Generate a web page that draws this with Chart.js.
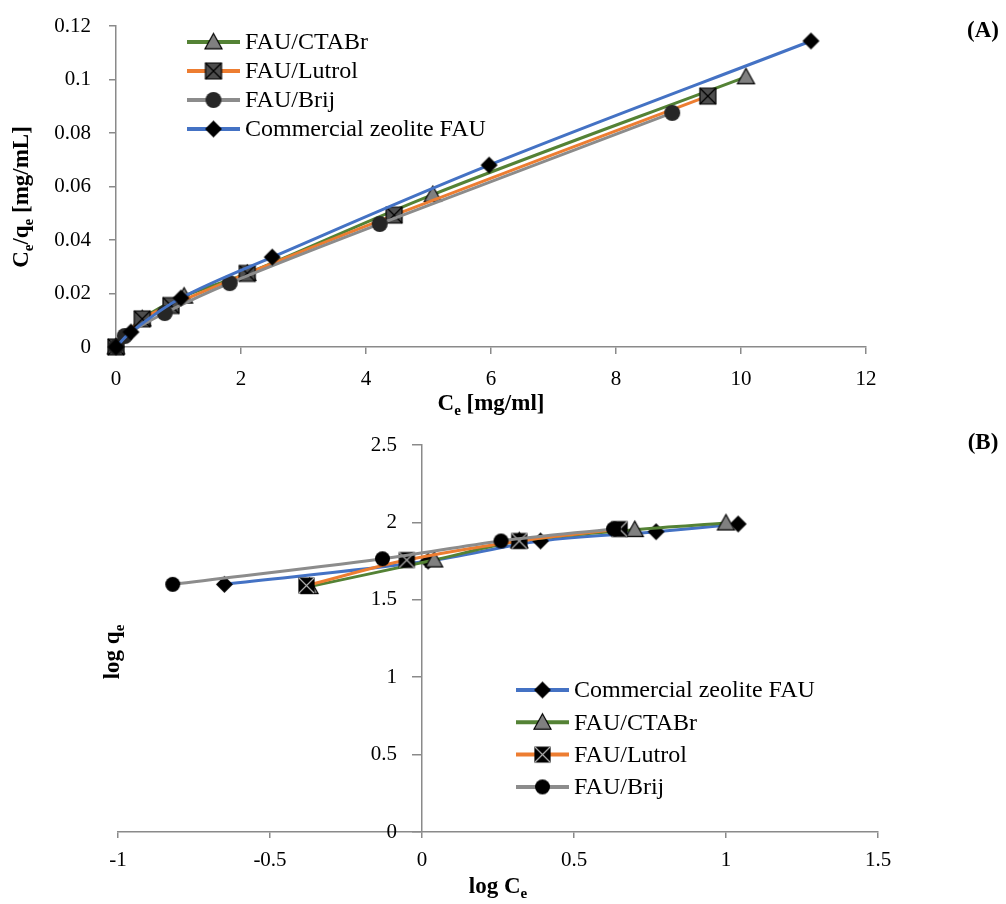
<!DOCTYPE html>
<html>
<head>
<meta charset="utf-8">
<script src="https://cdn.jsdelivr.net/npm/chart.js@4.4.1/dist/chart.umd.min.js"></script>
<style>
html, body { margin: 0; padding: 0; background: #fff; }
#wrap { position: relative; width: 1006px; height: 904px; }
canvas { position: absolute; left: 0; }
#chart-a { top: 0; }
#chart-b { top: 430px; }
</style>
</head>
<body>
<div id="wrap">
	<canvas id="chart-a" width="1006" height="430"></canvas>
	<canvas id="chart-b" width="1006" height="474"></canvas>
</div>
<script>
// (A) linear Langmuir plot: Ce vs Ce/qe
const ctabX = [0, 0.42, 1.09, 2.1, 5.07, 10.08];
const ctabY = [0, 0.0105, 0.019, 0.0275, 0.057, 0.101];
const lutrolX = [0, 0.42, 0.88, 2.1, 4.45, 9.47];
const lutrolY = [0, 0.0105, 0.0155, 0.0275, 0.0493, 0.0938];
const brijX = [0, 0.14, 0.78, 1.82, 4.22, 8.9];
const brijY = [0, 0.0041, 0.0127, 0.0239, 0.046, 0.0875];
const commX = [0, 0.24, 1.04, 2.5, 5.97, 11.12];
const commY = [0, 0.0056, 0.0183, 0.0336, 0.068, 0.1144];
const xTicksA = [0, 2, 4, 6, 8, 10, 12];
const yTicksA = [0, 0.02, 0.04, 0.06, 0.08, 0.1, 0.12];

// (B) Freundlich plot: log Ce vs log qe
const commLogX = [-0.65, 0.02, 0.39, 0.77, 1.04];
const commLogY = [1.6, 1.75, 1.88, 1.94, 1.99];
const ctabLogX = [-0.37, 0.04, 0.32, 0.7, 1.0];
const ctabLogY = [1.585, 1.757, 1.88, 1.953, 1.996];
const lutrolLogX = [-0.38, -0.05, 0.32, 0.65];
const lutrolLogY = [1.592, 1.757, 1.88, 1.957];
const brijLogX = [-0.82, -0.13, 0.26, 0.63];
const brijLogY = [1.6, 1.765, 1.88, 1.958];
const xTicksB = [-1, -0.5, 0, 0.5, 1, 1.5];
const yTicksB = [0, 0.5, 1, 1.5, 2, 2.5];

const SERIF = "'Liberation Serif', 'DejaVu Serif', serif";
const AXIS = "#8a8a8a";
const BLUE = "#4472c4";
const GREEN = "#548235";
const ORANGE = "#ed7d31";
const GREY = "#8c8c8c";

function makeMarker(kind, size, fill, stroke, cross) {
	const c = document.createElement("canvas");
	c.width = c.height = size + 4;
	const ctx = c.getContext("2d");
	const m = c.width / 2;
	const r = size / 2;
	ctx.fillStyle = fill;
	ctx.strokeStyle = stroke || fill;
	ctx.lineWidth = 1.2;
	ctx.beginPath();
	if (kind === "diamond") {
		ctx.moveTo(m, m - r); ctx.lineTo(m + r, m); ctx.lineTo(m, m + r); ctx.lineTo(m - r, m); ctx.closePath();
	} else if (kind === "triangle") {
		ctx.moveTo(m, m - r); ctx.lineTo(m + r, m + r * 0.8); ctx.lineTo(m - r, m + r * 0.8); ctx.closePath();
	} else if (kind === "square") {
		ctx.rect(m - r, m - r, size, size);
	} else {
		ctx.arc(m, m, r, 0, Math.PI * 2);
	}
	ctx.fill();
	if (stroke) ctx.stroke();
	if (cross) {
		ctx.strokeStyle = cross;
		ctx.beginPath();
		ctx.moveTo(m - r, m - r); ctx.lineTo(m + r, m + r);
		ctx.moveTo(m + r, m - r); ctx.lineTo(m - r, m + r);
		ctx.stroke();
	}
	return c;
}

const markers = {
	diamond: makeMarker("diamond", 17, "#000"),
	triangle: makeMarker("triangle", 17, "#808080", "#000"),
	squareA: makeMarker("square", 16, "#4d4d4d", "#000", "#000"),
	circleA: makeMarker("circle", 16, "#262626"),
	squareB: makeMarker("square", 15, "#000", "#000", "#b0b0b0"),
	circleB: makeMarker("circle", 15, "#000"),
};

function series(label, xs, ys, color, marker, order) {
	return {
		label,
		data: xs.map((x, i) => ({ x, y: ys[i] })),
		borderColor: color,
		backgroundColor: color,
		borderWidth: 3,
		pointStyle: marker,
		pointRadius: 8,
		tension: 0.35,
		fill: false,
		clip: false,
		order,
	};
}

// draws text with subscript parts centred on (x, y)
function drawRich(ctx, parts, x, y, rotate) {
	const main = "bold 23px " + SERIF;
	const sub = "bold 15px " + SERIF;
	ctx.save();
	ctx.translate(x, y);
	if (rotate) ctx.rotate(-Math.PI / 2);
	let total = 0;
	parts.forEach((p) => {
		ctx.font = p.sub ? sub : main;
		total += ctx.measureText(p.t).width;
	});
	let cx = -total / 2;
	ctx.textBaseline = "middle";
	ctx.fillStyle = "#000";
	parts.forEach((p) => {
		ctx.font = p.sub ? sub : main;
		ctx.fillText(p.t, cx, p.sub ? 7 : 0);
		cx += ctx.measureText(p.t).width;
	});
	ctx.restore();
}

const decorations = {
	id: "decorations",
	beforeDraw(chart, args, opts) {
		// y axis crossing at x = 0 puts its labels on the line; push them left
		if (!opts.shiftY) return;
		chart.scales.y.getLabelItems().forEach((item) => {
			item.options.translation[0] -= opts.shiftY;
		});
	},
	afterDraw(chart, args, opts) {
		const ctx = chart.ctx;
		opts.titles.forEach((t) => drawRich(ctx, t.parts, t.x, t.y, t.rotate));

		ctx.save();
		ctx.font = "24px " + SERIF;
		ctx.textBaseline = "middle";
		ctx.fillStyle = "#000";
		opts.legend.rows.forEach((idx, row) => {
			const ds = chart.data.datasets[idx];
			const y = opts.legend.top + row * opts.legend.gap;
			const left = opts.legend.left;
			ctx.strokeStyle = ds.borderColor;
			ctx.lineWidth = 4;
			ctx.beginPath();
			ctx.moveTo(left, y);
			ctx.lineTo(left + 53, y);
			ctx.stroke();
			const img = ds.pointStyle;
			ctx.drawImage(img, left + 26.5 - img.width / 2, y - img.height / 2);
			ctx.fillText(ds.label, left + 58, y + 1);
		});
		ctx.restore();
	},
};

// fixed box size and no label overflow padding, so the plot area stays where padding puts it
function fixBox(size) {
	return (s) => {
		if (size !== undefined) {
			if (s.isHorizontal()) s.height = size;
			else s.width = size;
		}
		s.paddingTop = 0;
		s.paddingBottom = 0;
		s.paddingLeft = 0;
		s.paddingRight = 0;
	};
}

function axis(min, max, tickList, tickLength, padding, extra) {
	return Object.assign({
		type: "linear",
		min,
		max,
		afterBuildTicks: (s) => { s.ticks = tickList.map((v) => ({ value: v })); },
		grid: { drawOnChartArea: false, drawTicks: true, tickLength, color: AXIS, lineWidth: 1.5 },
		border: { color: AXIS, width: 1.5 },
		ticks: {
			color: "#000",
			font: { family: SERIF, size: 21 },
			padding,
			maxRotation: 0,
			autoSkip: false,
			callback: (v) => String(v),
		},
	}, extra);
}

new Chart(document.getElementById("chart-a"), {
	type: "line",
	data: {
		datasets: [
			series("FAU/CTABr", ctabX, ctabY, GREEN, markers.triangle, 4),
			series("FAU/Lutrol", lutrolX, lutrolY, ORANGE, markers.squareA, 3),
			series("FAU/Brij", brijX, brijY, GREY, markers.circleA, 2),
			series("Commercial zeolite FAU", commX, commY, BLUE, markers.diamond, 1),
		],
	},
	options: {
		responsive: false,
		animation: false,
		events: [],
		layout: { padding: { left: 0, right: 140, top: 26, bottom: 0 } },
		plugins: {
			legend: { display: false },
			tooltip: { enabled: false },
			decorations: {
				titles: [
					{ parts: [{ t: "C" }, { t: "e", sub: true }, { t: "/q" }, { t: "e", sub: true }, { t: " [mg/mL]" }], x: 22, y: 197, rotate: true },
					{ parts: [{ t: "C" }, { t: "e", sub: true }, { t: " [mg/ml]" }], x: 491, y: 404 },
					{ parts: [{ t: "(A)" }], x: 983, y: 31 },
				],
				legend: { rows: [0, 1, 2, 3], left: 187, top: 42, gap: 29 },
			},
		},
		scales: {
			x: axis(0, 12, xTicksA, 7, 13, { afterFit: fixBox(83) }),
			y: axis(0, 0.12, yTicksA, 7, 18, { afterFit: fixBox(116) }),
		},
	},
	plugins: [decorations],
});

new Chart(document.getElementById("chart-b"), {
	type: "line",
	data: {
		datasets: [
			series("Commercial zeolite FAU", commLogX, commLogY, BLUE, markers.diamond, 4),
			series("FAU/CTABr", ctabLogX, ctabLogY, GREEN, markers.triangle, 3),
			series("FAU/Lutrol", lutrolLogX, lutrolLogY, ORANGE, markers.squareB, 2),
			series("FAU/Brij", brijLogX, brijLogY, GREY, markers.circleB, 1),
		],
	},
	options: {
		responsive: false,
		animation: false,
		events: [],
		layout: { padding: { left: 118, right: 128, top: 15, bottom: 0 } },
		plugins: {
			legend: { display: false },
			tooltip: { enabled: false },
			decorations: {
				shiftY: 25,
				titles: [
					{ parts: [{ t: "log q" }, { t: "e", sub: true }], x: 113, y: 222, rotate: true },
					{ parts: [{ t: "log C" }, { t: "e", sub: true }], x: 498, y: 457 },
					{ parts: [{ t: "(B)" }], x: 983, y: 13 },
				],
				legend: { rows: [0, 1, 2, 3], left: 516, top: 260, gap: 32.3 },
			},
		},
		scales: {
			x: axis(-1, 1.5, xTicksB, 6, 10, { afterFit: fixBox(72) }),
			y: axis(0, 2.5, yTicksB, 9, 0, { position: { x: 0 }, afterFit: fixBox() }),
		},
	},
	plugins: [decorations],
});
</script>
</body>
</html>
